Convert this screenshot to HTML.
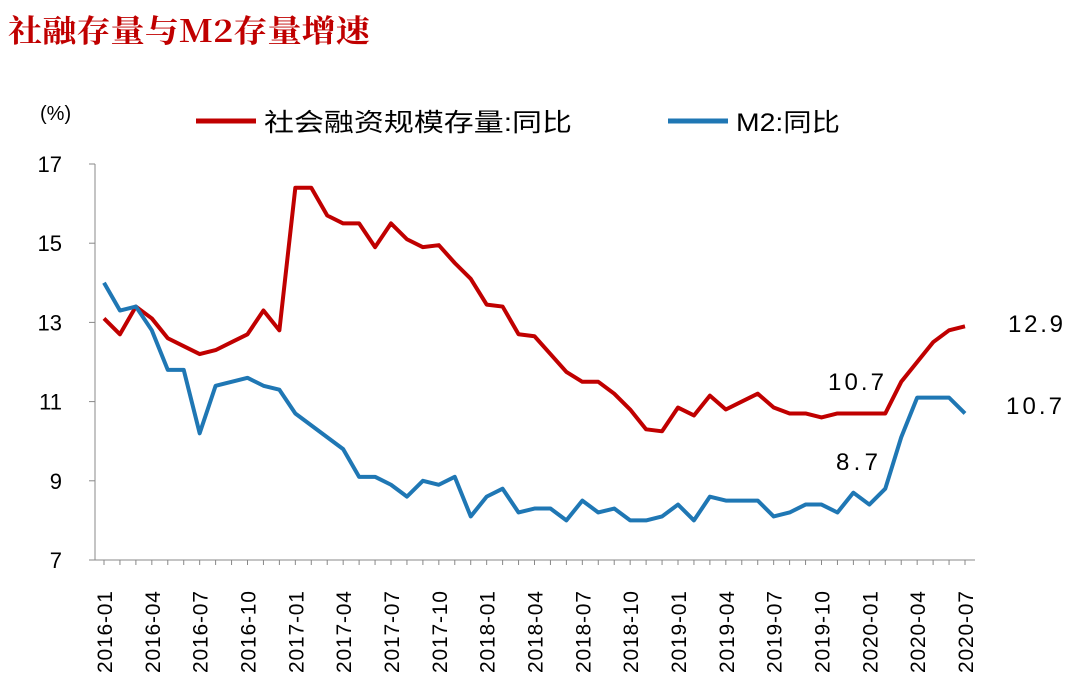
<!DOCTYPE html>
<html><head><meta charset="utf-8"><style>
body{margin:0;background:#fff;width:1080px;height:684px;overflow:hidden;font-family:"Liberation Sans","Noto Sans CJK SC",sans-serif}
</style></head><body>
<svg id="c" width="1080" height="684" xmlns="http://www.w3.org/2000/svg">
<text x="8" y="42" font-size="31" font-weight="bold" fill="#c00000" textLength="362" lengthAdjust="spacingAndGlyphs" font-family="'Noto Serif CJK SC','Noto Sans CJK SC',serif">社融存量与M2存量增速</text>
<text x="40" y="120" font-size="20" fill="#000">(%)</text>
<line x1="196" y1="121" x2="256" y2="121" stroke="#c00000" stroke-width="5"/>
<text x="264" y="131" font-size="25" textLength="308" lengthAdjust="spacingAndGlyphs">社会融资规模存量:同比</text>
<line x1="668" y1="121" x2="728" y2="121" stroke="#1f77b4" stroke-width="5"/>
<text x="736" y="131" font-size="25" textLength="104" lengthAdjust="spacingAndGlyphs">M2:同比</text>
<g id="axes"></g>
<g id="series"></g>
<text x="1008" y="332" font-size="24" textLength="55">12.9</text>
<text x="1006" y="414" font-size="24" textLength="56">10.7</text>
<text x="828" y="390" font-size="24" textLength="56">10.7</text>
<text x="836" y="470" font-size="24" textLength="42">8.7</text>
</svg>
<script>
const tsf=[13.1,12.7,13.4,13.1,12.6,12.4,12.2,12.3,12.5,12.7,13.3,12.8,16.4,16.4,15.7,15.5,15.5,14.9,15.5,15.1,14.9,14.95,14.5,14.1,13.45,13.4,12.7,12.65,12.2,11.75,11.5,11.5,11.2,10.8,10.3,10.25,10.85,10.65,11.15,10.8,11.0,11.2,10.85,10.7,10.7,10.6,10.7,10.7,10.7,10.7,11.5,12.0,12.5,12.8,12.9];
const m2=[14.0,13.3,13.4,12.8,11.8,11.8,10.2,11.4,11.5,11.6,11.4,11.3,10.7,10.4,10.1,9.8,9.1,9.1,8.9,8.6,9.0,8.9,9.1,8.1,8.6,8.8,8.2,8.3,8.3,8.0,8.5,8.2,8.3,8.0,8.0,8.1,8.4,8.0,8.6,8.5,8.5,8.5,8.1,8.2,8.4,8.4,8.2,8.7,8.4,8.8,10.1,11.1,11.1,11.1,10.7];
const yTicks=[7,9,11,13,15,17];
const xLabels=["2016-01","2016-04","2016-07","2016-10","2017-01","2017-04","2017-07","2017-10","2018-01","2018-04","2018-07","2018-10","2019-01","2019-04","2019-07","2019-10","2020-01","2020-04","2020-07"];
const NS="http://www.w3.org/2000/svg";
const X=i=>104+i*(861/54), Y=v=>560-(v-7)*39.6;
const ax=document.getElementById('axes'), se=document.getElementById('series');
function mk(t,a,p){const e=document.createElementNS(NS,t);for(const k in a)e.setAttribute(k,a[k]);p.appendChild(e);return e;}
let l=mk('line',{x1:95,y1:164,x2:95,y2:560,stroke:'#888','stroke-width':1},ax);


l=mk('line',{x1:95,y1:560,x2:975,y2:560,stroke:'#888','stroke-width':1},ax);


yTicks.forEach(v=>{const t=mk('text',{x:62,y:Y(v)+8,'font-size':22,'text-anchor':'end'},ax);t.textContent=v;


mk('line',{x1:89,y1:Y(v),x2:95,y2:Y(v),stroke:'#888'},ax);});
for(let i=0;i<55;i++){mk('line',{x1:X(i),y1:560,x2:X(i),y2:565,stroke:'#888'},ax);}
xLabels.forEach((s,k)=>{const x=X(k*3)+8;const t=mk('text',{x:x,y:673,'font-size':21,textLength:82,transform:`rotate(-90 ${x} 673)`},ax);t.textContent=s;

});
function line(d,c,n){const p=mk('polyline',{points:d.map((v,i)=>X(i)+','+Y(v)).join(' '),fill:'none',stroke:c,'stroke-width':4,'stroke-linejoin':'round'},se);

}
line(tsf,'#c00000','tsf-line');
line(m2,'#1f77b4','m2-line');
</script>
</body></html>
